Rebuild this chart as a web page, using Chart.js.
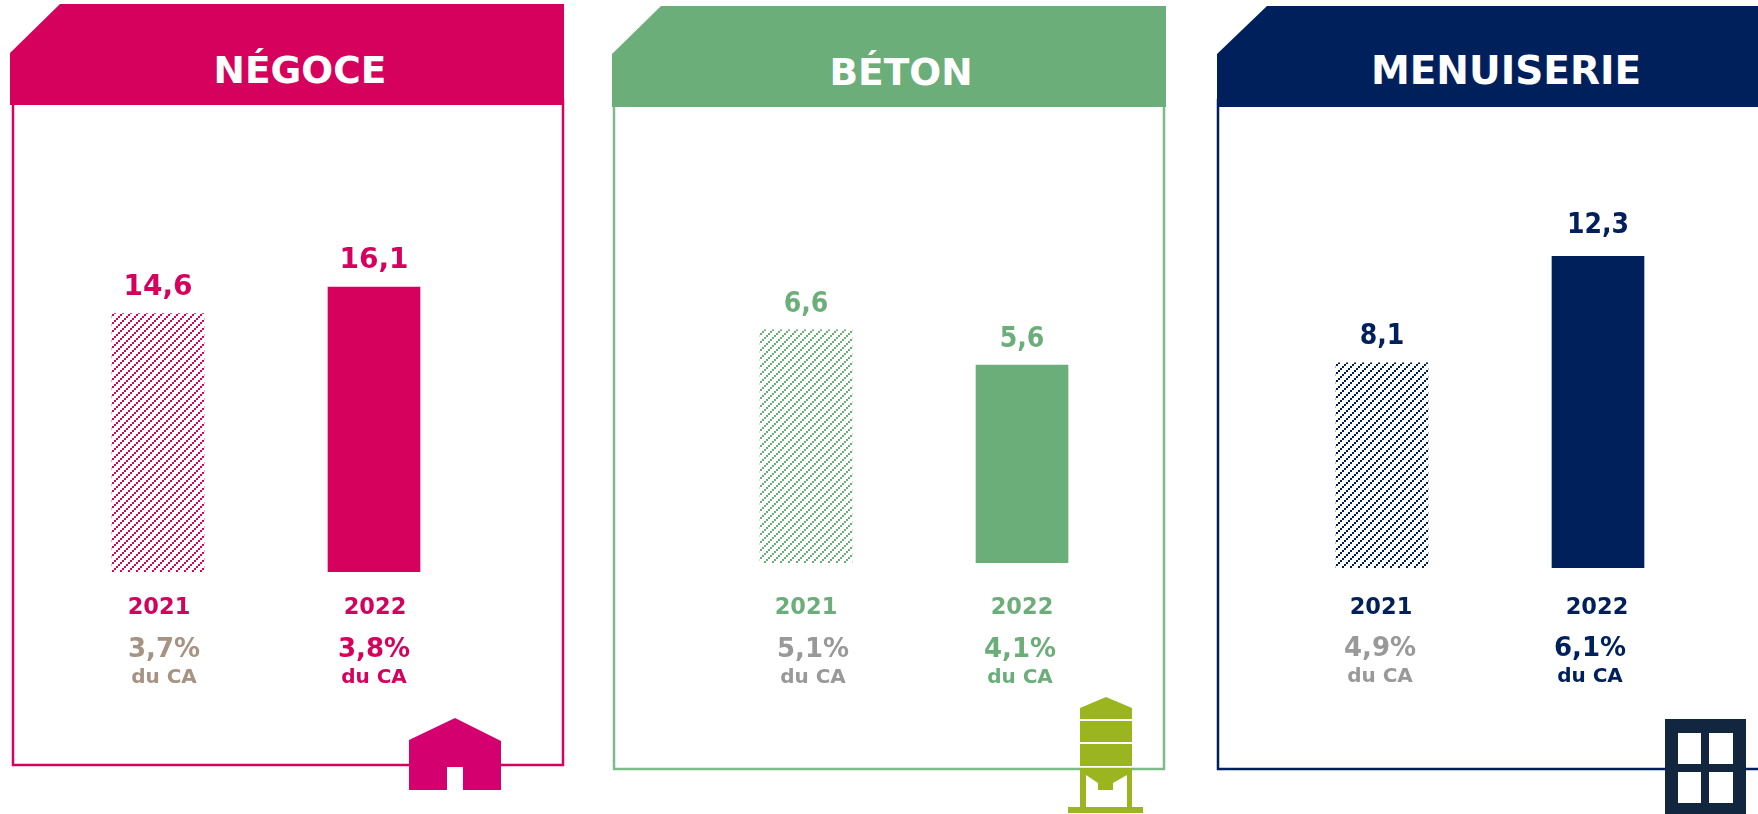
<!DOCTYPE html>
<html>
<head>
<meta charset="utf-8">
<title>Résultats par activité</title>
<script src="https://cdn.jsdelivr.net/npm/chart.js@4"></script>
<style>
  html, body { margin: 0; padding: 0; background: #fff; overflow: hidden; }
  #page { position: relative; width: 1758px; height: 814px; overflow: hidden; }
  #page svg { position: absolute; left: 0; top: 0; }
  #page canvas { position: absolute; }
  .title { font: bold 37.5px "DejaVu Sans", sans-serif; fill: #fff; text-anchor: middle; }
</style>
</head>
<body>
<div id="page">
  <svg width="1758" height="814">
    <!-- negoce -->
    <rect x="13" y="100" width="550" height="665" fill="none" stroke="#d6005d" stroke-width="2.5"/>
    <polygon points="60,4 564,4 564,105 10,105 10,53" fill="#d6005d"/>
    <text class="title" x="300" y="83">NÉGOCE</text>
    <polygon points="455,718 501,741 501,790 463,790 463,767 447,767 447,790 409,790 409,740" fill="#d4006f"/>
    <!-- beton -->
    <rect x="614" y="100" width="550" height="669" fill="none" stroke="#7fba8b" stroke-width="2.5"/>
    <polygon points="661,6 1166,6 1166,107 612,107 612,54" fill="#6cae7a"/>
    <text class="title" x="901" y="85">BÉTON</text>
    <path d="M1106,697 L1132,708 V719 H1080 V708 Z M1080,721 H1132 V742 H1080 Z M1080,744 H1132 V766 H1080 Z
             M1080,768 H1132 V807 H1143 V813 H1068 V807 H1080 Z" fill="#9ab51f"/>
    <path d="M1086,775 L1098,783 V790 H1113 V783 L1127,775 V807 H1086 Z" fill="#fff"/>
    <!-- menuiserie -->
    <rect x="1218" y="100" width="560" height="669" fill="none" stroke="#00205c" stroke-width="2.5"/>
    <polygon points="1267,6 1758,6 1758,107 1217,107 1217,54" fill="#00205c"/>
    <text class="title" x="1506" y="84" style="font-size:39px">MENUISERIE</text>
    <rect x="1665" y="719" width="81" height="95" fill="#12263f"/>
    <rect x="1678" y="733" width="23" height="31" fill="#fff"/>
    <rect x="1709" y="733" width="24" height="31" fill="#fff"/>
    <rect x="1678" y="772" width="23" height="31" fill="#fff"/>
    <rect x="1709" y="772" width="24" height="31" fill="#fff"/>
  </svg>
  <canvas id="negoce"></canvas>
  <canvas id="beton"></canvas>
  <canvas id="menuiserie"></canvas>
</div>

<script>
const categories = ['2021', '2022'];

const negoce_values = [14.6, 16.1];
const beton_values = [6.6, 5.6];
const menuiserie_values = [8.1, 12.3];

const negoce_shares = [3.7, 3.8];
const beton_shares = [5.1, 4.1];
const menuiserie_shares = [4.9, 6.1];

const share_unit = 'du CA';

function frenchNumber(v){
    return v.toFixed(1).replace('.', ',');
}

// stair-stepped diagonal stripes for the 2021 bars
function hatch(color){
    const c = document.createElement('canvas');
    c.width = 8;
    c.height = 8;
    const g = c.getContext('2d');
    g.fillStyle = '#fff';
    g.fillRect(0, 0, 8, 8);
    g.fillStyle = color;
    for (let k = 0; k < 4; k++) {
        g.fillRect(2 * k, 6 - 2 * k, 2, 2);
    }
    return g.createPattern(c, 'repeat');
}

const FONT = '"DejaVu Sans", sans-serif';
const CONDENSED = '"DejaVu Sans Condensed", ' + FONT;
const BELOW = 130; // room under the baseline for years and shares

// top labels and shares are not axis ticks, so they go in a small plugin
const textPlugin = {
    id: 'panelText',
    afterDatasetsDraw(chart, args, o) {
        const g = chart.ctx;
        const bars = chart.getDatasetMeta(0).data;
        g.save();
        g.textAlign = 'center';
        g.textBaseline = 'alphabetic';
        bars.forEach((bar, i) => {
            g.fillStyle = o.color;
            g.font = 'bold ' + o.valueSize + 'px ' + o.valueFont;
            g.fillText(frenchNumber(o.values[i]), bar.x, bar.y - o.valueGap[i]);

            g.fillStyle = o.shareColors[i];
            const x = bar.x + o.shareNudge[i];
            g.font = 'bold 26px ' + FONT;
            g.fillText(frenchNumber(o.shares[i]) + '%', x, chart.chartArea.bottom + o.shareY);
            g.font = 'bold 20px ' + FONT;
            g.fillText(share_unit, x, chart.chartArea.bottom + o.shareY + 26);
        });
        g.restore();
    }
};

function drawPanel(id, left, baseline, pxPerUnit, yMax, values, shares, color, grey, opts){
    const height = Math.round(yMax * pxPerUnit);
    const canvas = document.getElementById(id);
    canvas.width = 432;
    canvas.height = height + BELOW;
    canvas.style.left = left + 'px';
    canvas.style.top = (baseline - height) + 'px';

    return new Chart(canvas, {
        type: 'bar',
        data: {
            labels: categories,
            datasets: [{
                data: values,
                backgroundColor: [hatch(color), color],
                borderWidth: 0,
                barThickness: 92
            }]
        },
        options: {
            responsive: false,
            animation: false,
            layout: { padding: 0 },
            plugins: {
                legend: { display: false },
                tooltip: { enabled: false },
                panelText: {
                    values: values,
                    shares: shares,
                    color: color,
                    shareColors: [grey, color],
                    valueFont: opts.valueFont,
                    valueSize: opts.valueSize,
                    valueGap: opts.valueGap,
                    shareY: opts.shareY,
                    shareNudge: opts.shareNudge
                }
            },
            scales: {
                y: { display: false, min: 0, max: yMax },
                x: {
                    grid: { display: false },
                    border: { display: false },
                    ticks: {
                        color: color,
                        font: { family: FONT, size: 22.5, weight: 'bold' },
                        padding: opts.tickPad,
                        labelOffset: opts.tickNudge,
                        maxRotation: 0
                    },
                    afterFit(scale) { scale.height = BELOW; }
                }
            }
        },
        plugins: [textPlugin]
    });
}

drawPanel('negoce', 50, 572, 17.7, 20, negoce_values, negoce_shares, '#d6005d', '#a69382', {
    valueFont: FONT, valueSize: 28, valueGap: [19, 19], shareY: 85, shareNudge: [6, 0], tickPad: 15, tickNudge: 1
});
drawPanel('beton', 698, 563, 35.3, 9, beton_values, beton_shares, '#6cae7a', '#999999', {
    valueFont: CONDENSED, valueSize: 28, valueGap: [18, 18], shareY: 94, shareNudge: [7, -2], tickPad: 24, tickNudge: 0
});
drawPanel('menuiserie', 1274, 568, 25.3, 15, menuiserie_values, menuiserie_shares, '#00205c', '#999999', {
    valueFont: CONDENSED, valueSize: 28, valueGap: [19, 23], shareY: 88, shareNudge: [-2, -8], tickPad: 19, tickNudge: -1
});
</script>
</body>
</html>
